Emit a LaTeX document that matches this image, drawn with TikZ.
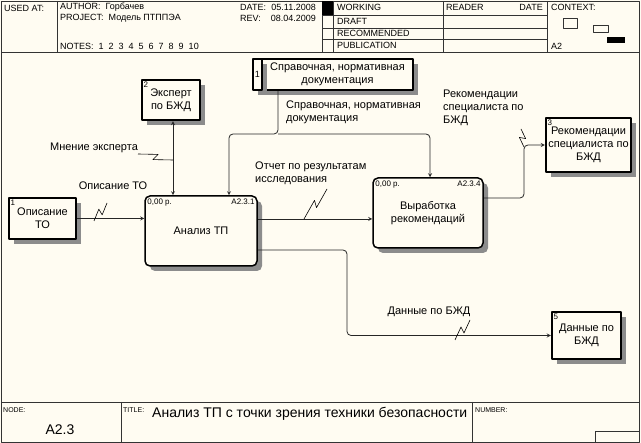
\documentclass[tikz,border=0pt]{standalone}
\usepackage{fontspec}
\setmainfont{Liberation Sans}
\usetikzlibrary{calc}
\definecolor{paper}{RGB}{255,252,242}
\definecolor{hatch}{RGB}{140,140,140}
\newcommand\zigzag[2]{\draw[line width=0.6pt] (#1) -- ($(#1)!0.56!(#2)!3pt!90:(#2)$) -- ($(#1)!0.44!(#2)!3pt!-90:(#2)$) -- (#2);}
\begin{document}
\begin{tikzpicture}[x=1pt, y=-1pt, line join=round, >=stealth,
  every node/.style={inner sep=0pt},
  frm/.style={draw=black!80, line width=0.8pt},
  hdr/.style={font=\fontsize{9}{11}\selectfont},
  tiny/.style={font=\fontsize{7}{8}\selectfont},
  lbl/.style={font=\fontsize{11}{13}\selectfont, align=left},
  numtxt/.style={font=\fontsize{8}{9}\selectfont, anchor=north west},
  shade/.style={preaction={fill=hatch, transform canvas={shift={(5pt,-5pt)}}}},
  actbox/.style={draw, line width=1.5pt, rounded corners=5pt, fill=paper, align=center,
    font=\fontsize{11}{13}\selectfont, shade},
  extbox/.style={draw, line width=2.4pt, fill=paper, align=center,
    font=\fontsize{11}{13}\selectfont, shade},
  flow/.style={draw=black!85, line width=0.8pt, ->, rounded corners=4pt}]
\useasboundingbox (0,0) rectangle (641,443);
\fill[paper] (0,0) rectangle (641,443);
\draw[frm] (1,1) rectangle (639,442);
\draw[frm] (1,52) -- (639,52);
\draw[frm] (1,402) -- (639,402);
\foreach \x in {57,322,333,443,547} \draw[frm] (\x,1) -- (\x,52);
\foreach \y in {15,28,39} \draw[frm] (322,\y) -- (547,\y);
\fill[black] (322,1) rectangle (333,15);
\draw[frm] (121,402) -- (121,442);
\draw[frm] (472,402) -- (472,442);
\draw[frm] (595,442) -- (595,431) -- (639,431);
\draw[frm, line width=0.6pt] (563,18) rectangle (577,28);
\draw[frm, line width=0.6pt] (593,25) rectangle (608,32);
\fill[black] (607,37) rectangle (625,43);

\node[hdr, anchor=west] (usedat) at (4,8) {USED AT:};
\node[hdr, anchor=west] (author) at (60,7) {AUTHOR:\ \ Горбачев};
\node[hdr, anchor=west] (project) at (60,18) {PROJECT:\ \ Модель ПТППЭА};
\node[hdr, anchor=west] (notes) at (60,46) {NOTES:\ \ 1\ \ 2\ \ 3\ \ 4\ \ 5\ \ 6\ \ 7\ \ 8\ \ 9\ \ 10};
\node[hdr, anchor=west] (date) at (240,7) {DATE:};
\node[hdr, anchor=east] (dateval) at (316,7) {05.11.2008};
\node[hdr, anchor=west] (rev) at (240,18) {REV:};
\node[hdr, anchor=east] (revval) at (316,18) {08.04.2009};
\node[hdr, anchor=west] (working) at (337,7.5) {WORKING};
\node[hdr, anchor=west] (draft) at (337,21) {DRAFT};
\node[hdr, anchor=west] (recomm) at (337,33.5) {RECOMMENDED};
\node[hdr, anchor=west] (public) at (337,45.5) {PUBLICATION};
\node[hdr, anchor=west] (reader) at (446,7.5) {READER};
\node[hdr, anchor=east] (rdate) at (543,7.5) {DATE};
\node[hdr, anchor=west] (context) at (551,7.5) {CONTEXT:};
\node[hdr, anchor=west] (ctxnode) at (551,46) {A2};

\node[tiny, anchor=west] (nodelbl) at (3,410) {NODE:};
\node[font=\fontsize{14}{16}\selectfont] (nodeval) at (60,430) {A2.3};
\node[tiny, anchor=west] (titlelbl) at (123,410) {TITLE:};
\node[font=\fontsize{14}{16}\selectfont, anchor=west] (titleval) at (152,414) {Анализ ТП с точки зрения техники безопасности};
\node[tiny, anchor=west] (numberlbl) at (475,410) {NUMBER:};

\node[extbox, minimum width=67pt, minimum height=41pt] (opis) at (42.5,218.5) {Описание\\ТО};
\node[extbox, minimum width=58pt, minimum height=40pt] (expert) at (171,100) {Эксперт\\по БЖД};
\node[extbox, minimum width=151pt, minimum height=31pt] (doc) at (337.5,74.5) {Справочная, нормативная\\документация};
\node[extbox, minimum width=9pt, minimum height=31pt] (docnum) at (257.5,74.5) {};
\node[extbox, minimum width=85pt, minimum height=54pt] (rekom) at (588.5,145) {Рекомендации\\специалиста по\\БЖД};
\node[extbox, minimum width=69pt, minimum height=47pt] (dannye) at (586.5,335.5) {Данные по\\БЖД};
\node[actbox, minimum width=112pt, minimum height=70pt] (analiz) at (201,231) {Анализ ТП};
\node[actbox, minimum width=110pt, minimum height=70pt] (vyrab) at (428,213) {Выработка\\рекомендаций};

\node[numtxt] (n1) at ([shift={(2.5pt,-2.5pt)}]opis.north west) {1};
\node[numtxt] (n2) at ([shift={(2.5pt,-2.5pt)}]expert.north west) {2};
\node[numtxt] (n3) at ([shift={(2.5pt,-2.5pt)}]rekom.north west) {3};
\node[numtxt] (n5) at ([shift={(2.5pt,-2.5pt)}]dannye.north west) {5};
\node[font=\fontsize{9}{10}\selectfont] (ndoc) at (docnum) {1};
\node[numtxt] (c1) at ([shift={(3pt,-3pt)}]analiz.north west) {0,00 р.};
\node[numtxt, anchor=north east] (a1) at ([shift={(-3pt,-3pt)}]analiz.north east) {A2.3.1};
\node[numtxt] (c4) at ([shift={(3pt,-3pt)}]vyrab.north west) {0,00 р.};
\node[numtxt, anchor=north east] (a4) at ([shift={(-3pt,-3pt)}]vyrab.north east) {A2.3.4};

\draw[flow] (opis.east) -- (opis.east -| analiz.west);
\draw[flow, <->] ([xshift=2pt]expert.south) -- ([xshift=2pt]expert.south |- analiz.north);
\coordinate (split) at (278,134);
\draw[flow] (doc.south -| split) -- (split) -| ([xshift=28pt]analiz.north);
\draw[flow] (split) -| ([xshift=2pt]vyrab.north);
\draw[flow] ([yshift=12pt]analiz.east) -- ([yshift=12pt]analiz.east -| vyrab.west);
\coordinate (rbend) at (524,0);
\draw[flow] ([yshift=15pt]vyrab.east) -| (rbend |- rekom.west) -- (rekom.west);
\coordinate (dbend) at (347,0);
\draw[flow] ([yshift=-19pt]analiz.east) -| (dbend |- dannye.west) -- (dannye.west);

\node[lbl] (lopis) at (113,186) {Описание ТО};
\node[lbl] (lmnen) at (94,148) {Мнение эксперта};
\node[lbl, anchor=north west] (lsprav) at (286,101) {Справочная, нормативная\\документация};
\node[lbl, anchor=north west] (lotch) at (255,162) {Отчет по результатам\\исследования};
\node[lbl, anchor=north west] (lrek) at (443,90) {Рекомендации\\специалиста по\\БЖД};
\node[lbl] (ldan) at (429,312) {Данные по БЖД};

\coordinate (z1a) at (94,221);  \coordinate (z1b) at (107,203);
\coordinate (z2a) at (173,160); \coordinate (z2b) at (138,154);
\coordinate (z4a) at (304,219); \coordinate (z4b) at (327,189);
\coordinate (z5a) at (524,147); \coordinate (z5b) at (521,129);
\coordinate (z6a) at (455,340); \coordinate (z6b) at (470,320);
\zigzag{z1a}{z1b}
\zigzag{z2a}{z2b}
\zigzag{z4a}{z4b}
\zigzag{z5a}{z5b}
\zigzag{z6a}{z6b}
\end{tikzpicture}
\end{document}
